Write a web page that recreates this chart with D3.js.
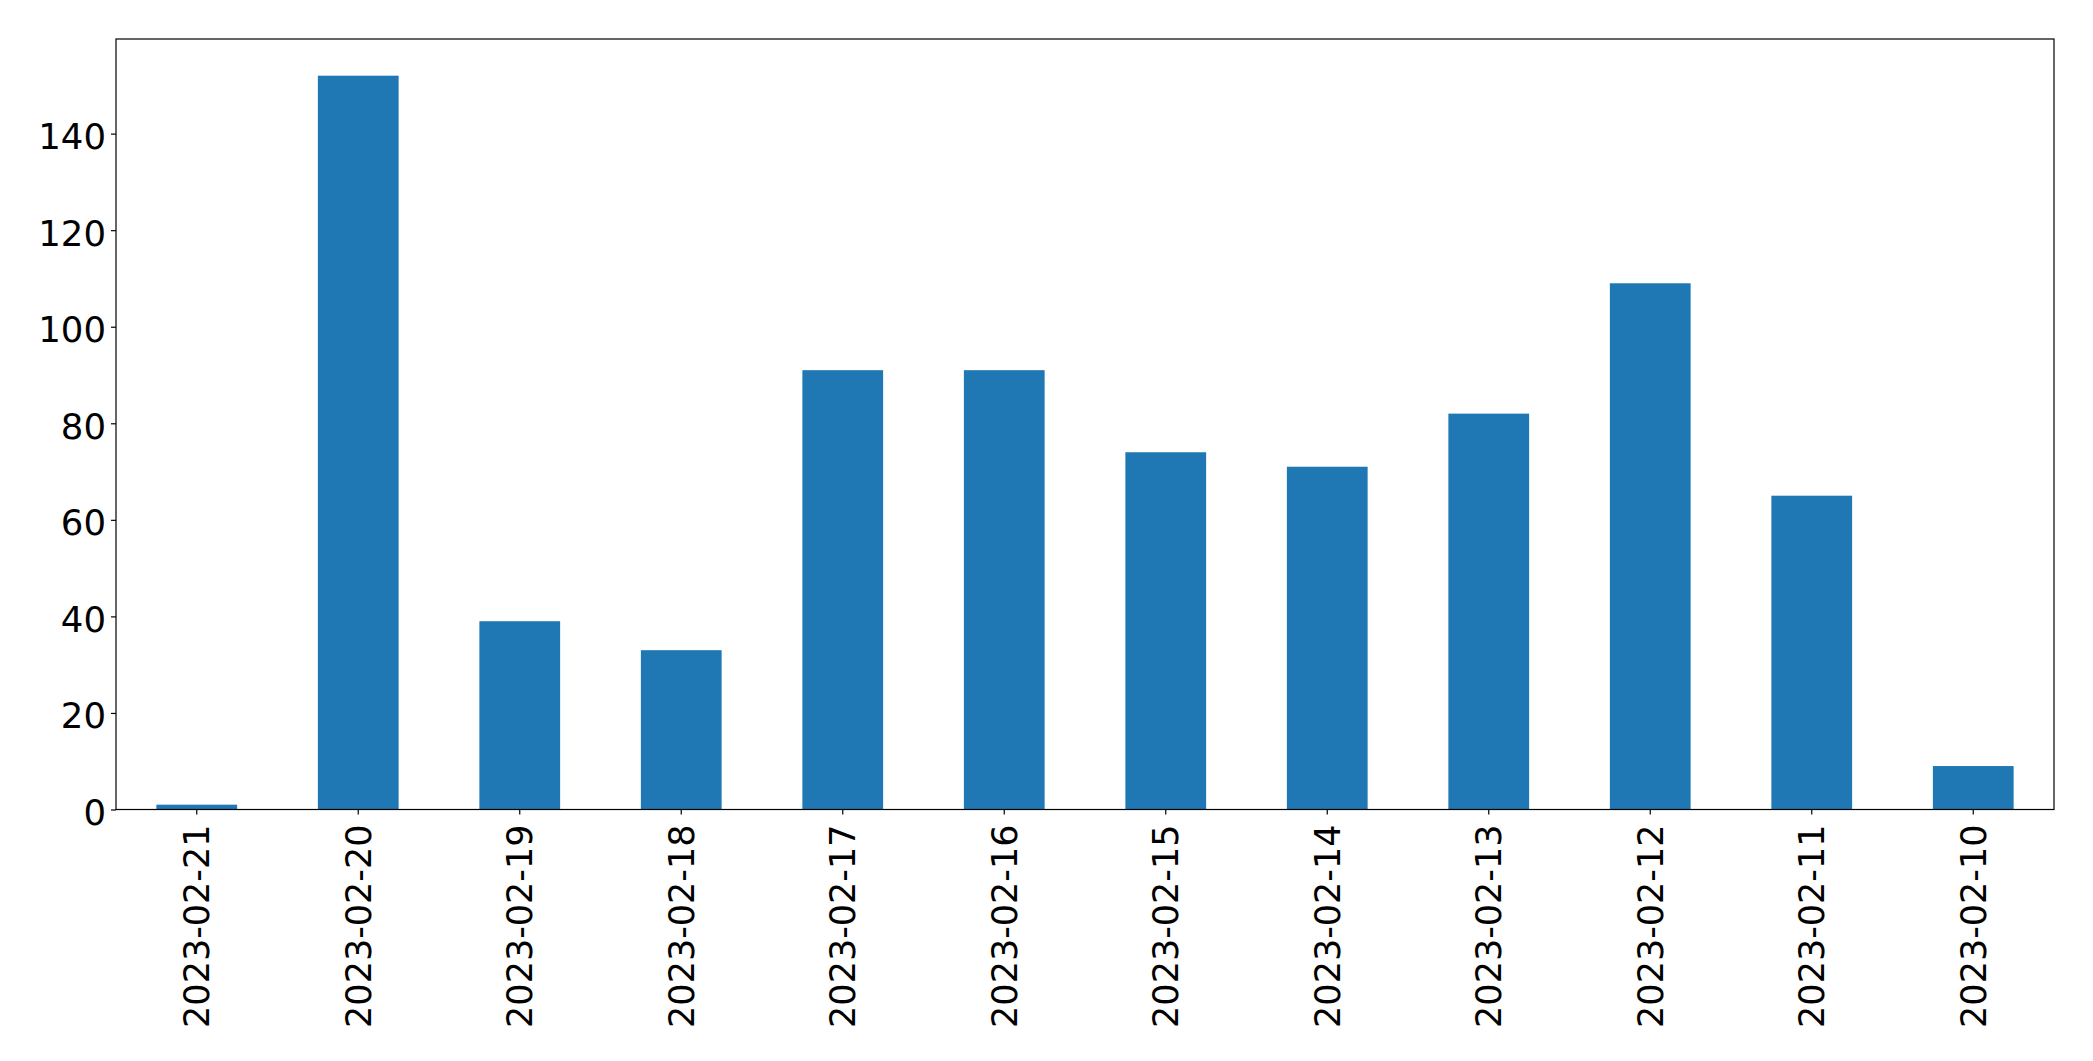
<!DOCTYPE html>
<html>
<head>
<meta charset="utf-8">
<script src="https://cdn.jsdelivr.net/npm/d3@7"></script>
<style>
  html, body { margin: 0; padding: 0; background: #fff; }
  svg { display: block; }
  text { font-family: "DejaVu Sans", sans-serif; }
</style>
</head>
<body>
<svg id="chart" width="2093" height="1061"></svg>
<script>
const categories = ["2023-02-21","2023-02-20","2023-02-19","2023-02-18","2023-02-17","2023-02-16","2023-02-15","2023-02-14","2023-02-13","2023-02-12","2023-02-11","2023-02-10"];
const values = [1, 152, 39, 33, 91, 91, 74, 71, 82, 109, 65, 9];
const yTicks = [0, 20, 40, 60, 80, 100, 120, 140];

const W = 2093, H = 1061;
const margin = { left: 116, right: 2093 - 2054, top: 39, bottom: 1061 - 809.5 };
const svg = d3.select("#chart");
const innerW = W - margin.left - margin.right;
const innerH = H - margin.top - margin.bottom;

const g = svg.append("g").attr("transform", `translate(${margin.left},${margin.top})`);

const x = d3.scaleBand().domain(categories).range([0, innerW]).paddingInner(0.5).paddingOuter(0.25);
const y = d3.scaleLinear().domain([0, d3.max(values) * 1.05]).range([innerH, 0]);

g.selectAll("rect.bar").data(categories).enter().append("rect")
  .attr("class", "bar")
  .attr("x", d => x(d))
  .attr("width", x.bandwidth())
  .attr("y", (d, i) => y(values[i]))
  .attr("height", (d, i) => y(0) - y(values[i]))
  .attr("fill", "#1f77b4");

// Y axis
const yAxis = g.append("g").call(d3.axisLeft(y).tickValues(yTicks).tickSize(5).tickPadding(5).tickFormat(d3.format("d")));
yAxis.select(".domain").remove();
yAxis.selectAll("line").attr("stroke", "#000").attr("stroke-width", 1.2);
yAxis.selectAll("text").attr("font-size", 35.5).attr("fill", "#000").attr("dy", "0.42em");

// X axis
const xAxis = g.append("g").attr("transform", `translate(0,${innerH})`)
  .call(d3.axisBottom(x).tickSize(5).tickPadding(0));
xAxis.select(".domain").remove();
xAxis.selectAll("line").attr("stroke", "#000").attr("stroke-width", 1.2);
xAxis.selectAll("text")
  .attr("font-size", 35)
  .attr("fill", "#000")
  .attr("text-anchor", "end")
  .attr("y", 0)
  .attr("dy", "0.36em")
  .attr("transform", "translate(0,15) rotate(-90)");

// Frame
g.append("rect").attr("x", 0).attr("y", 0).attr("width", innerW).attr("height", innerH)
  .attr("fill", "none").attr("stroke", "#000").attr("stroke-width", 1.2);
</script>
</body>
</html>
